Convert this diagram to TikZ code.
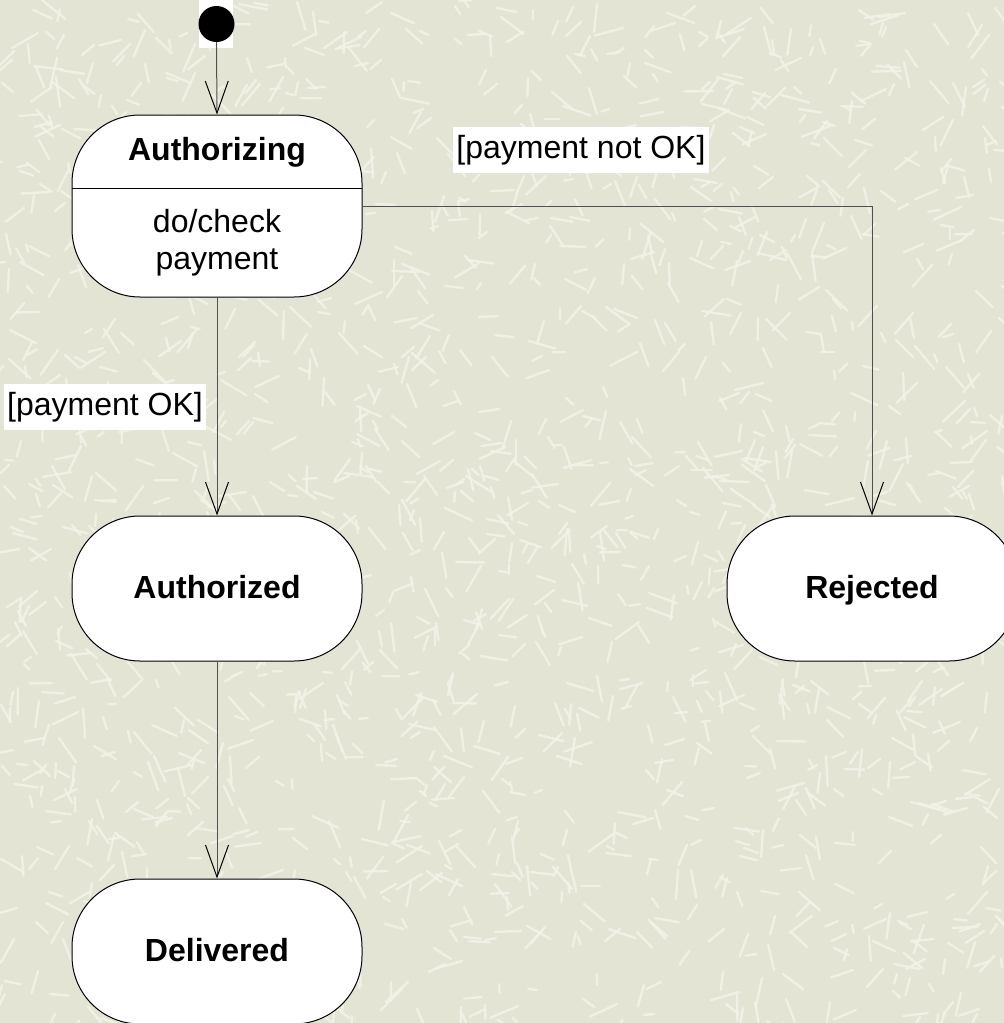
\documentclass[tikz,border=0pt]{standalone}
\usepackage{fontspec}
\setmainfont{Liberation Sans}
\usetikzlibrary{arrows.meta}

\definecolor{paper}{HTML}{E4E4D5}
\definecolor{fibre}{HTML}{F3F3E9}
\definecolor{wire}{HTML}{505050}

\tikzset{
  statebox/.style={rectangle, rounded corners=68pt, draw=black, fill=white,
    line width=1pt, inner sep=0pt, minimum width=290pt, minimum height=145pt,
    text height=23pt, text depth=3pt,
    font=\bfseries\fontsize{32}{38}\selectfont},
  statetext/.style={inner sep=0pt, align=center},
  guard/.style={rectangle, fill=white, inner xsep=3pt, inner ysep=0pt,
    minimum height=46pt, font=\fontsize{32}{38}\selectfont},
  flow/.style={draw=wire, line width=1pt,
    -{Straight Barb[length=32pt, width=23pt, line width=1pt, color=black]}},
}

\begin{document}
\begin{tikzpicture}[x=1pt, y=-1pt]
  \useasboundingbox (0,0) rectangle (1004,1023);
  \clip (0,0) rectangle (1004,1023);
  \fill[paper] (0,0) rectangle (1004,1023);

  % textured paper: short pale fibres scattered over the sheet
  \pgfmathsetseed{4242}
  \foreach \i in {1,...,1800}{
    \pgfmathsetmacro{\fx}{random(0,1004)}
    \pgfmathsetmacro{\fy}{random(0,1023)}
    \pgfmathsetmacro{\fa}{random(0,179)}
    \pgfmathsetmacro{\fl}{random(8,30)}
    \draw[fibre, line width=2.4pt, line cap=round, opacity=0.8]
      (\fx,\fy) -- ++(\fa:\fl);
  }

  % initial pseudo-state on its white tile
  \fill[white] (199,0) rectangle (233,48);
  \node[circle, fill=black, inner sep=0pt, minimum size=36pt] (init) at (216.5,24) {};

  % composite state with an internal activity
  \node[statebox, minimum height=182pt] (auth) at (217,206) {};
  \draw[line width=1pt] (72,188) -- (362,188);
  \node[statetext, font=\bfseries\fontsize{32}{38}\selectfont] (authname) at (217,152) {Authorizing};
  \node[statetext, font=\fontsize{32}{37}\selectfont] (authdo) at (217,243) {do/check\\payment};

  % simple states
  \node[statebox] (authd) at (217,588.5) {Authorized};
  \node[statebox] (rej) at (872,588.5) {Rejected};
  \node[statebox] (deliv) at (217,951.5) {Delivered};

  % transitions
  \draw[flow] (init.south) -- (auth.north);
  \draw[flow] (auth.south) -- (authd.north);
  \draw[flow] (auth.east) -| (rej.north);
  \draw[flow] (authd.south) -- (deliv.north);

  % guard conditions
  \node[guard] (gnotok) at (581,150) {[payment not OK]};
  \node[guard] (gok) at (105,407) {[payment OK]};
\end{tikzpicture}
\end{document}
